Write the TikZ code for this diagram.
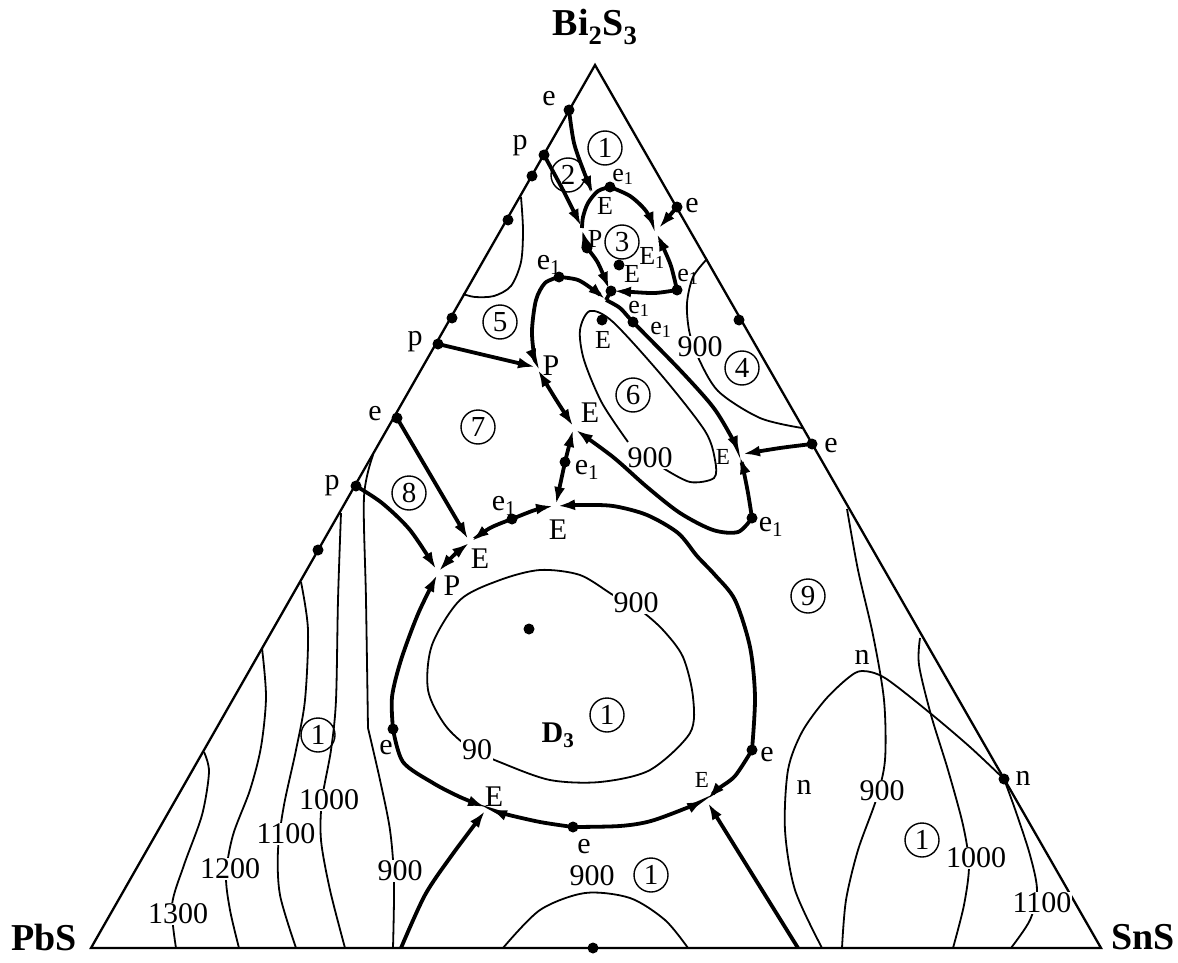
\documentclass[tikz,border=0pt]{standalone}
\usepackage{fontspec}
\setmainfont{Liberation Serif}
\usetikzlibrary{arrows.meta}
\begin{document}
\begin{tikzpicture}[x=1pt, y=-1pt, >={Latex[length=17pt,width=11pt]},
  lim/.style={line width=3.8pt},
  iso/.style={line width=1.8pt},
  tx/.style={font=\fontsize{30}{31}\selectfont, inner sep=1pt},
  txm/.style={font=\fontsize{26}{27}\selectfont, inner sep=0pt},
  txs/.style={font=\fontsize{23}{24}\selectfont, inner sep=1pt},
  val/.style={font=\fontsize{30}{31}\selectfont, fill=white, inner sep=1pt},
  reg/.style={draw, circle, line width=1.4pt, minimum size=34pt, inner sep=0pt, font=\fontsize{29}{30}\selectfont},
  comp/.style={font=\fontsize{38}{40}\selectfont\bfseries}]
\useasboundingbox (0,0) rectangle (1178,963);

% Triangulo
\coordinate (PbS) at (91,948);
\coordinate (Bi) at (595,65);
\coordinate (SnS) at (1101,948);
\draw[line width=2.3pt] (PbS) -- (Bi) -- (SnS) -- cycle;
\node[comp] (nBi) at (595,27) {Bi\textsubscript{2}S\textsubscript{3}};
\node[comp] (nPbS) at (44,937) {PbS};
\node[comp] (nSnS) at (1143,937) {SnS};

% Pontos nos lados
\coordinate (eA) at (569,110);  \coordinate (pA) at (544,155);
\coordinate (dA) at (532,176);  \coordinate (dB) at (508,220);
\coordinate (dC) at (452,318);  \coordinate (pB) at (438,344);
\coordinate (eB) at (397,418);  \coordinate (pC) at (356,486);
\coordinate (dD) at (318,550);  \coordinate (eR) at (677,207);
\coordinate (dR) at (739,320);  \coordinate (eS) at (812,444);
\coordinate (nR) at (1004,779); \coordinate (dBase) at (593,948);
\coordinate (b1) at (401,948);  \coordinate (b2) at (798,948);

% Pontos internos
\coordinate (e1t) at (610,187); \coordinate (P3) at (582,228);
\coordinate (d3) at (587,248);  \coordinate (E1) at (619,265);
\coordinate (E3) at (611,291);  \coordinate (e1r) at (677,290);
\coordinate (e1a) at (559,277); \coordinate (J) at (606,300);
\coordinate (e1x) at (633,322); \coordinate (Ed) at (602,320);
\coordinate (e1b) at (752,518); \coordinate (E7) at (574,428);
\coordinate (e1v) at (565,462); \coordinate (e1c) at (512,519);
\coordinate (eL) at (393,729);  \coordinate (eB2) at (573,827);
\coordinate (eRr) at (752,750); \coordinate (D) at (529,629);

% Isotermas
\draw[iso] plot[smooth] coordinates {(204,752) (209,772) (202,815) (184,865) (172,905) (176,948)};
\draw[iso] plot[smooth] coordinates {(262,648) (266,697) (261,747) (250,790) (233,835) (226,875) (230,910) (239,948)};
\draw[iso] plot[smooth] coordinates {(301,582) (308,630) (305,700) (296,750) (284,805) (278,850) (280,895) (296,948)};
\draw[iso] plot[smooth] coordinates {(341,513) (338,600) (336,700) (331,750) (322,800) (321,840) (330,890) (345,948)};
\draw[iso] plot[smooth] coordinates {(373,455) (364,497) (366,600) (368,728)};
\draw[iso] plot[smooth] coordinates {(368,728) (380,780) (390,830) (394,880) (393,948)};
\draw[iso] plot[smooth] coordinates {(521,197) (523,230) (521,262) (511,286) (494,296) (475,297) (463,294)};
\draw[iso] plot[smooth] coordinates {(707,259) (693,277) (687,303) (689,330) (697,355) (718,391) (760,418) (802,428)};
\draw[iso] plot[smooth] coordinates {(628,442) (602,403) (584,360) (580,330) (590,311) (613,322) (663,377) (705,431) (715,460) (714,478) (690,482) (663,468)};
\draw[iso] plot[smooth cycle] coordinates {(580,575) (540,570) (500,580) (460,600) (432,645) (428,690) (445,725) (470,748) (502,763) (550,780) (600,782) (650,770) (690,733) (693,697) (683,657) (663,630) (640,610) (613,595)};
\draw[iso] plot[smooth] coordinates {(503,948) (540,910) (585,893) (630,898) (665,920) (688,948)};
\draw[iso] plot[smooth] coordinates {(847,509) (858,570) (873,635) (884,700) (885,760) (876,800) (858,850) (846,900) (842,948)};
\draw[iso] plot[smooth] coordinates {(920,638) (919,665) (931,715) (948,770) (963,825) (969,865) (964,905) (953,948)};
\draw[iso] plot[smooth] coordinates {(nR) (1016,812) (1030,855) (1037,890) (1030,920) (1011,948)};
\draw[iso] plot[smooth] coordinates {(822,948) (795,890) (785,830) (788,770) (802,732) (825,700) (848,678) (862,671) (885,678) (930,713) (970,747) (nR)};

\foreach \x/\y/\t [count=\i] in {178/914/1300, 230/869/1200, 286/834/1100, 329/800/1000, 400/871/900,
  700/347/900, 650/458/900, 636/603/900, 477/750/90, 592/876/900, 882/791/900, 976/858/1000, 1042/903/1100}
  \node[val] (v\i) at (\x,\y) {\t};

% Linhas univariantes
\draw[lim,->] plot[smooth] coordinates {(eA) (574,143) (584,172) (593,193)};
\draw[lim,->] plot[smooth] coordinates {(pA) (563,190) (581,226)};
\draw[lim] plot[smooth] coordinates {(e1t) (598,191) (588,203) (583,217) (P3)};
\draw[lim,->] (d3) -- (582,230);
\draw[lim,->] plot[smooth] coordinates {(d3) (598,263) (609,289)};
\draw[lim,->] plot[smooth] coordinates {(e1r) (655,293) (632,292) (614,291)};
\draw[lim,->] plot[smooth] coordinates {(e1t) (630,196) (646,211) (655,229)};
\draw[lim,->] plot[smooth] coordinates {(e1r) (671,266) (663,247) (657,234)};
\draw[lim,->] (eR) -- (659,228);
\draw[lim] (E3) -- (J);
\draw[lim,->] plot[smooth] coordinates {(e1a) (545,283) (536,300) (532,330) (534,355) (537,366)};
\draw[lim,->] plot[smooth] coordinates {(e1a) (578,280) (595,291) (605,299)};
\draw[lim,->] plot[smooth] coordinates {(J) (620,308) (e1x) (680,370) (713,407) (732,438) (739,453)};
\draw[lim,->] plot[smooth] coordinates {(e1b) (748,493) (743,468) (740,457)};
\draw[lim,->] plot[smooth] coordinates {(e1b) (738,532) (713,530) (680,513) (647,487) (613,457) (576,430)};
\draw[lim,<->] plot[smooth] coordinates {(538,370) (555,398) (573,426)};
\draw[lim,->] plot[smooth] coordinates {(pB) (480,354) (535,367)};
\draw[lim,->] plot[smooth] coordinates {(eS) (780,448) (743,454)};
\draw[lim,<->] (573,430) -- (e1v) -- (556,504);
\draw[lim,<->] plot[smooth] coordinates {(469,543) (453,556) (439,571)};
\draw[lim,->] plot[smooth] coordinates {(e1c) (490,528) (472,541)};
\draw[lim,->] plot[smooth] coordinates {(e1c) (535,510) (553,506)};
\draw[lim,->] plot[smooth] coordinates {(eRr) (755,697) (750,647) (735,600) (715,575) (697,556) (678,533) (647,515) (613,506) (580,505) (558,506)};
\draw[lim,->] plot[smooth] coordinates {(eL) (392,697) (401,660) (418,614) (437,575)};
\draw[lim,->] plot[smooth] coordinates {(eL) (403,762) (433,783) (460,797) (485,807)};
\draw[lim,->] plot[smooth] coordinates {(eB2) (540,822) (505,814) (490,809)};
\draw[lim,->] plot[smooth] coordinates {(eB2) (620,826) (651,821) (689,807) (704,800)};
\draw[lim,->] plot[smooth] coordinates {(eRr) (735,776) (718,789) (708,799)};
\draw[lim,->] plot[smooth] coordinates {(b1) (425,895) (452,855) (485,811)};
\draw[lim,->] (b2) -- (708,803);
\draw[lim,->] (eB) -- (468,539);
\draw[lim,->] plot[smooth] coordinates {(pC) (382,503) (410,530) (436,569)};

% Pontos
\foreach \c in {eA,pA,dA,dB,dC,pB,eB,pC,dD,eR,dR,eS,nR,dBase,e1t,d3,E1,E3,e1r,e1a,e1x,Ed,e1b,e1v,e1c,eL,eB2,eRr,D}
  \fill (\c) circle[radius=5.5pt];

% Rotulos
\foreach \x/\y/\t [count=\i] in {549/99/e, 520/146/p, 692/206/e, 415/342/p, 551/366/P, 375/414/e,
  590/413/E, 587/470/{e\textsubscript{1}}, 831/446/e, 332/486/p, 504/506/{e\textsubscript{1}}, 558/530/E,
  480/559/E, 452/586/P, 771/527/{e\textsubscript{1}}, 386/748/e, 494/797/E, 584/847/e, 767/755/e,
  862/657/n, 804/787/n, 1023/778/n, 549/265/{e\textsubscript{1}}}
  \node[tx] (t\i) at (\x,\y) {\t};
% zona apertada
\foreach \x/\y/\t [count=\i] in {623/177/{e\textsubscript{1}}, 605/206/E, 595/239/P, 652/258/{E\textsubscript{1}},
  632/274/E, 688/277/{e\textsubscript{1}}, 639/309/{e\textsubscript{1}}, 661/330/{e\textsubscript{1}}, 603/340/E}
  \node[txm] (m\i) at (\x,\y) {\t};
\node[txs] (s1) at (723,457) {E};
\node[txs] (s2) at (702,780) {E};
\node[tx, font=\fontsize{30}{31}\selectfont\bfseries] (nD) at (558,735) {D\textsubscript{3}};

% Campos
\foreach \x/\y/\t [count=\i] in {605/148/1, 568/175/2, 622/242/3, 742/368/4, 500/322/5, 633/395/6, 478/427/7,
  409/493/8, 808/596/9, 318/735/1, 607/715/1, 651/875/1, 922/840/1}
  \node[reg] (r\i) at (\x,\y) {\t};
\end{tikzpicture}
\end{document}
